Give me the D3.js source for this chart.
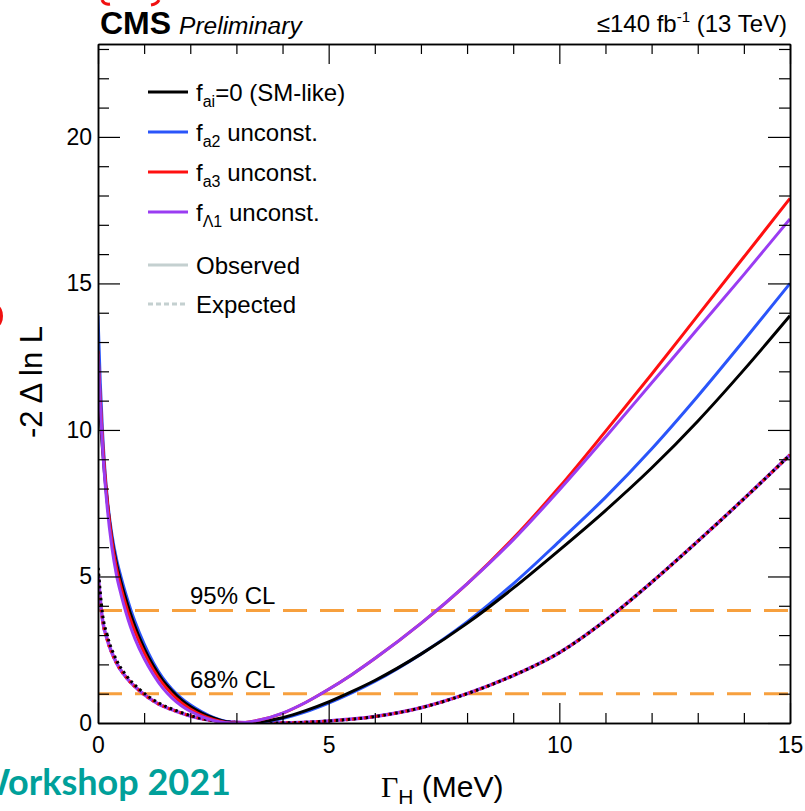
<!DOCTYPE html>
<html>
<head>
<meta charset="utf-8">
<script src="https://cdn.jsdelivr.net/npm/d3@7"></script>
<style>
  html, body { margin: 0; padding: 0; background: #fff; }
  svg { display: block; font-family: "Liberation Sans", Arial, Helvetica, sans-serif; }
</style>
</head>
<body>
<svg id="chart" width="805" height="811"></svg>
<script>
// Likelihood scan of the Higgs width, Γ_H in MeV.
// Observed scans (solid lines) share one grid of Γ_H points.
const obsWidth = [0, 0.05, 0.1, 0.15, 0.2, 0.3, 0.4, 0.5, 0.6, 0.7, 0.8, 1.0, 1.2, 1.4, 1.6, 1.8, 2.0, 2.25, 2.5, 2.75, 3.0, 3.5, 4.0, 4.5, 5.0, 5.5, 6, 7, 8, 9, 10, 11, 12, 13, 14, 15];
const obsSM  = [11.8, 10.4, 9.3, 8.35, 7.55, 6.3, 5.45, 4.8, 4.25, 3.75, 3.3, 2.55, 1.95, 1.46, 1.1, 0.8, 0.56, 0.34, 0.17, 0.05, 0.0, 0.04, 0.18, 0.42, 0.72, 1.07, 1.45, 2.35, 3.4, 4.6, 5.9, 7.25, 8.7, 10.3, 12.05, 13.9];
const obsFa2 = [13.9, 11.6, 9.9, 8.65, 7.7, 6.45, 5.6, 4.98, 4.42, 3.92, 3.47, 2.7, 2.06, 1.55, 1.16, 0.86, 0.62, 0.38, 0.19, 0.06, 0.0, 0.03, 0.15, 0.38, 0.68, 1.03, 1.42, 2.35, 3.45, 4.75, 6.2, 7.7, 9.35, 11.15, 13.05, 15.0];
const obsFa3 = [12.7, 11.0, 9.6, 8.5, 7.6, 6.25, 5.3, 4.62, 4.05, 3.55, 3.12, 2.4, 1.82, 1.35, 0.99, 0.7, 0.48, 0.27, 0.12, 0.03, 0.0, 0.1, 0.33, 0.7, 1.15, 1.65, 2.2, 3.4, 4.75, 6.3, 8.05, 9.95, 11.9, 13.9, 15.9, 17.9];
const obsFL1 = [12.6, 10.8, 9.35, 8.25, 7.35, 6.0, 5.05, 4.38, 3.8, 3.3, 2.88, 2.2, 1.65, 1.2, 0.86, 0.6, 0.4, 0.22, 0.09, 0.02, 0.0, 0.1, 0.34, 0.7, 1.15, 1.65, 2.2, 3.4, 4.75, 6.25, 7.95, 9.75, 11.6, 13.45, 15.3, 17.2];

// Expected scans (dotted lines)
const expWidth = [0, 0.1, 0.2, 0.4, 0.6, 0.9, 1.3, 1.7, 2.2, 2.8, 3.5, 4.2, 5, 6, 7, 8, 9, 10, 11, 12, 13, 14, 15];
const expSM    = [5.4, 3.7, 3.0, 2.15, 1.65, 1.15, 0.7, 0.42, 0.17, 0.04, 0.0, 0.01, 0.07, 0.22, 0.52, 1.0, 1.62, 2.4, 3.5, 4.8, 6.2, 7.65, 9.15];
const expBSM   = [5.1, 3.5, 2.85, 2.05, 1.58, 1.1, 0.66, 0.4, 0.16, 0.04, 0.0, 0.01, 0.07, 0.22, 0.52, 1.0, 1.62, 2.4, 3.5, 4.8, 6.2, 7.65, 9.15];

// Axes
const xDomain = [0, 15];
const yDomain = [0, 23.17];
const xMajorTicks = [0, 5, 10, 15];
const yMajorTicks = [0, 5, 10, 15, 20];
const xMinorTicks = [1, 2, 3, 4, 6, 7, 8, 9, 11, 12, 13, 14];
const yMinorTicks = [1, 2, 3, 4, 6, 7, 8, 9, 11, 12, 13, 14, 16, 17, 18, 19, 21, 22, 23];

// Confidence-level thresholds
const clValues = [1.0, 3.84];
const clLabels = ["68% CL", "95% CL"];

// Legend entries
const legendNames = [
  { main: "f", sub: "ai", rest: "=0 (SM-like)" },
  { main: "f", sub: "a2", rest: " unconst." },
  { main: "f", sub: "a3", rest: " unconst." },
  { main: "f", sub: "\u039B1", rest: " unconst." },
  { main: "Observed", sub: "", rest: "" },
  { main: "Expected", sub: "", rest: "" }
];

const colSM = "#000000", colA2 = "#2a55fa", colA3 = "#ff1010", colL1 = "#9a3cf2";
const colCL = "#f7a03e", colLegGrey = "#c4d0d0";

const svg = d3.select("#chart");
const L = 98, R = 790, T = 44, B = 723;

const x = d3.scaleLinear().domain(xDomain).range([L, R]);
const y = d3.scaleLinear().domain(yDomain).range([B, T]);

svg.append("defs").append("clipPath").attr("id", "plotClip")
  .append("rect").attr("x", L).attr("y", T).attr("width", R - L).attr("height", B - T);

const plot = svg.append("g").attr("clip-path", "url(#plotClip)");

// CL threshold lines
clValues.forEach(v => {
  plot.append("line")
    .attr("x1", L).attr("x2", R).attr("y1", y(v)).attr("y2", y(v))
    .attr("stroke", colCL).attr("stroke-width", 3)
    .attr("stroke-dasharray", "24,13");
});

const line = d3.line().x(d => x(d[0])).y(d => y(d[1])).curve(d3.curveMonotoneX);
const pts = (xs, ys) => xs.map((v, i) => [v, ys[i]]);

// Expected scans
plot.append("path").attr("d", line(pts(expWidth, expBSM)))
  .attr("fill", "none").attr("stroke", colA2).attr("stroke-width", 3).attr("stroke-dasharray", "3,3");
plot.append("path").attr("d", line(pts(expWidth, expBSM)))
  .attr("fill", "none").attr("stroke", colL1).attr("stroke-width", 3.5);
plot.append("path").attr("d", line(pts(expWidth, expBSM)))
  .attr("fill", "none").attr("stroke", colA3).attr("stroke-width", 3).attr("stroke-dasharray", "2.5,3.5");
plot.append("path").attr("d", line(pts(expWidth, expSM)))
  .attr("fill", "none").attr("stroke", colSM).attr("stroke-width", 3).attr("stroke-dasharray", "2.5,3.5").attr("stroke-dashoffset", 3);

// Observed scans
[[obsFa2, colA2], [obsSM, colSM], [obsFa3, colA3], [obsFL1, colL1]].forEach(([ys, c]) => {
  plot.append("path").attr("d", line(pts(obsWidth, ys)))
    .attr("fill", "none").attr("stroke", c).attr("stroke-width", 3);
});

// CL labels
clValues.forEach((v, i) => {
  svg.append("text").attr("x", 190).attr("y", y(v) - 6)
    .attr("font-size", 24).attr("fill", "#000").text(clLabels[i]);
});

// Frame with inward ticks on all four sides
function styleAxis(g) {
  g.selectAll("path.domain").attr("stroke", "#000").attr("stroke-width", 1.5);
  g.selectAll(".tick line").attr("stroke", "#000").attr("stroke-width", 1.2);
}
const noLabel = () => "";

svg.append("g").attr("transform", `translate(0,${B})`)
  .call(d3.axisBottom(x).tickValues(xMajorTicks).tickSize(-20).tickSizeOuter(0).tickPadding(14).tickFormat(d3.format("d")))
  .call(g => g.selectAll("text").attr("font-size", 23).attr("fill", "#000").attr("font-family", "Liberation Sans, Arial, sans-serif"))
  .call(styleAxis);
svg.append("g").attr("transform", `translate(0,${B})`)
  .call(d3.axisBottom(x).tickValues(xMinorTicks).tickSize(-10).tickSizeOuter(0).tickFormat(noLabel))
  .call(styleAxis);
svg.append("g").attr("transform", `translate(0,${T})`)
  .call(d3.axisTop(x).tickValues(xMajorTicks).tickSize(-20).tickSizeOuter(0).tickFormat(noLabel))
  .call(styleAxis);
svg.append("g").attr("transform", `translate(0,${T})`)
  .call(d3.axisTop(x).tickValues(xMinorTicks).tickSize(-10).tickSizeOuter(0).tickFormat(noLabel))
  .call(styleAxis);

svg.append("g").attr("transform", `translate(${L},0)`)
  .call(d3.axisLeft(y).tickValues(yMajorTicks).tickSize(-22).tickSizeOuter(0).tickPadding(6).tickFormat(d3.format("d")))
  .call(g => g.selectAll("text").attr("font-size", 23).attr("fill", "#000").attr("font-family", "Liberation Sans, Arial, sans-serif"))
  .call(styleAxis);
svg.append("g").attr("transform", `translate(${L},0)`)
  .call(d3.axisLeft(y).tickValues(yMinorTicks).tickSize(-11).tickSizeOuter(0).tickFormat(noLabel))
  .call(styleAxis);
svg.append("g").attr("transform", `translate(${R},0)`)
  .call(d3.axisRight(y).tickValues(yMajorTicks).tickSize(-22).tickSizeOuter(0).tickFormat(noLabel))
  .call(styleAxis);
svg.append("g").attr("transform", `translate(${R},0)`)
  .call(d3.axisRight(y).tickValues(yMinorTicks).tickSize(-11).tickSizeOuter(0).tickFormat(noLabel))
  .call(styleAxis);

// Legend
const legRows = [92, 132, 172, 212, 265, 304];
const legStyles = [
  { c: colSM, dash: null }, { c: colA2, dash: null }, { c: colA3, dash: null }, { c: colL1, dash: null },
  { c: colLegGrey, dash: null }, { c: colLegGrey, dash: "5,3" }
];
legendNames.forEach((d, i) => {
  const yy = legRows[i];
  svg.append("line").attr("x1", 148).attr("x2", 188).attr("y1", yy).attr("y2", yy)
    .attr("stroke", legStyles[i].c).attr("stroke-width", 3)
    .attr("stroke-dasharray", legStyles[i].dash);
  const t = svg.append("text").attr("x", 196).attr("y", yy + 8.5).attr("font-size", 24).attr("fill", "#000");
  t.append("tspan").text(d.main);
  if (d.sub) {
    t.append("tspan").attr("font-size", 16).attr("dy", 6).text(d.sub);
    t.append("tspan").attr("dy", -6).text(d.rest);
  }
});

// Header
const hdr = svg.append("text").attr("x", 100).attr("y", 34).attr("fill", "#000");
hdr.append("tspan").attr("font-weight", "bold").attr("font-size", 32).text("CMS");
hdr.append("tspan").attr("font-style", "italic").attr("font-size", 24.5).attr("dx", 8).text("Preliminary");

const lumi = svg.append("text").attr("x", 787).attr("y", 32).attr("text-anchor", "end")
  .attr("font-size", 24).attr("fill", "#000");
lumi.append("tspan").text("\u2264140 fb");
lumi.append("tspan").attr("font-size", 15).attr("dy", -10).text("-1");
lumi.append("tspan").attr("dy", 10).text(" (13 TeV)");

// Axis titles
svg.append("text").attr("transform", "translate(42,382) rotate(-90)")
  .attr("text-anchor", "middle").attr("font-size", 31).attr("fill", "#000")
  .text("-2 \u0394 ln L");

const xt = svg.append("text").attr("x", 381).attr("y", 797).attr("fill", "#000").attr("font-size", 30);
xt.append("tspan").attr("font-family", "Liberation Serif, Times New Roman, serif").text("\u0393");
xt.append("tspan").attr("font-size", 21).attr("dy", 7).text("H");
xt.append("tspan").attr("dy", -7).text(" (MeV)");

// Workshop banner, partly off the page edge
svg.append("text").attr("x", 231).attr("y", 795).attr("text-anchor", "end")
  .attr("font-family", "Lato, sans-serif").attr("font-weight", 700).attr("font-size", 36)
  .attr("fill", "#00a09a").text("Workshop 2021");

// Red logo fragments at the page edges
svg.append("path").attr("d", "M102,0 Q104,5 110,4").attr("fill", "none").attr("stroke", "#f01010").attr("stroke-width", 3);
svg.append("path").attr("d", "M159,0 Q157,4 151,5").attr("fill", "none").attr("stroke", "#f01010").attr("stroke-width", 3);
svg.append("ellipse").attr("cx", -2).attr("cy", 316).attr("rx", 5).attr("ry", 10).attr("fill", "#f01010");
</script>
</body>
</html>
